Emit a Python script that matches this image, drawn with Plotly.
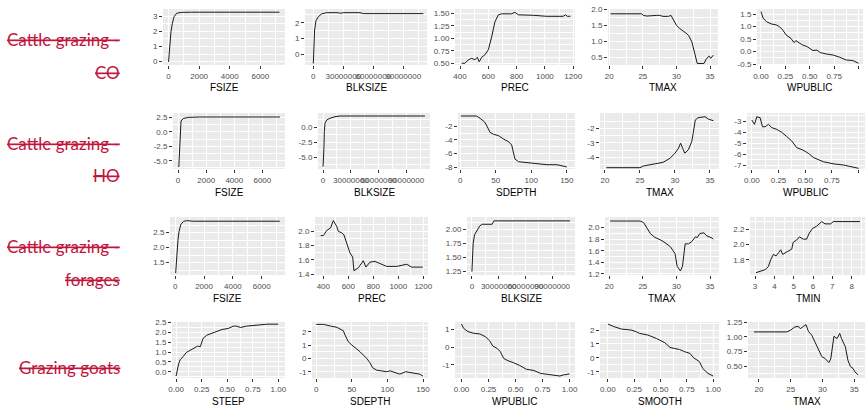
import plotly.graph_objects as go

# ---------------- data (partial dependence curves) ----------------
# Row 1: Cattle grazing - CO
co_fsize_x = [0, 50, 100, 160, 250, 360, 530, 860, 1500, 7250]
co_fsize_y = [-0.02, 0.77, 1.31, 1.97, 2.52, 2.95, 3.18, 3.24, 3.25, 3.25]
co_blk_x = [0, 0.7e6, 1.3e6, 2.7e6, 5e6, 8.3e6, 13.3e6, 25e6, 26.7e6, 30e6, 46.7e6, 50e6, 110e6]
co_blk_y = [-0.6, 0.68, 1.53, 2.13, 2.38, 2.56, 2.64, 2.64, 2.60, 2.64, 2.64, 2.58, 2.58]
co_prec_x = [412, 435, 459, 482, 506, 522, 536, 553, 576, 600, 624, 647, 671, 694, 765, 788,
             812, 847, 918, 1012, 1129, 1146, 1158, 1180]
co_prec_y = [0.50, 0.50, 0.57, 0.60, 0.57, 0.62, 0.53, 0.62, 0.67, 0.77, 1.03, 1.33, 1.47, 1.49,
             1.49, 1.52, 1.47, 1.47, 1.46, 1.44, 1.44, 1.47, 1.44, 1.44]
co_tmax_x = [20.2, 24.8, 25.1, 25.6, 27.0, 27.5, 28.0, 28.8, 29.2, 29.5, 30.0, 30.5, 31.0, 31.4,
             31.8, 32.3, 32.6, 32.9, 33.1, 34.1, 34.5, 34.9, 35.1, 35.5]
co_tmax_y = [1.86, 1.86, 1.81, 1.79, 1.81, 1.81, 1.78, 1.78, 1.81, 1.71, 1.50, 1.40, 1.33, 1.26,
             1.19, 0.98, 0.73, 0.42, 0.31, 0.31, 0.47, 0.54, 0.47, 0.57]
co_wpub_x = [0, 0.023, 0.057, 0.107, 0.157, 0.19, 0.223, 0.257, 0.307, 0.34, 0.357, 0.39, 0.423,
             0.473, 0.507, 0.533, 0.573, 0.607, 0.673, 0.74, 0.807, 0.873, 0.94, 1.0]
co_wpub_y = [1.61, 1.34, 1.20, 1.11, 1.07, 1.00, 0.87, 0.67, 0.53, 0.36, 0.44, 0.36, 0.27, 0.20,
             0.09, 0.04, 0.06, -0.04, -0.10, -0.14, -0.23, -0.34, -0.36, -0.47]

# Row 2: Cattle grazing - HO
ho_fsize_x = [50, 70, 90, 110, 140, 210, 370, 730, 1500, 7250]
ho_fsize_y = [-6.1, -5.0, -3.5, -1.1, 0.9, 1.85, 2.3, 2.48, 2.55, 2.55]
ho_blk_x = [0, 0.66e6, 1.0e6, 1.3e6, 2.06e6, 3.9e6, 7.46e6, 12.9e6, 18.3e6, 110e6]
ho_blk_y = [-6.56, -5.17, -2.95, -0.73, 0.67, 1.22, 1.50, 1.77, 1.88, 1.88]
ho_sdepth_x = [1, 23, 28, 34, 37, 40, 42, 47, 54, 61, 68, 72.5, 75, 77, 82, 94, 103, 112, 122, 136, 145, 150]
ho_sdepth_y = [-0.49, -0.49, -0.83, -1.32, -1.81, -2.54, -2.88, -3.17, -3.37, -3.86, -4.25, -4.74,
               -5.72, -6.78, -7.18, -7.32, -7.32, -7.47, -7.62, -7.62, -7.86, -7.95]
ho_tmax_x = [20.2, 25.0, 25.5, 26.9, 28.3, 29.3, 30.0, 30.5, 30.8, 31.1, 31.4, 31.9, 32.4, 32.6,
             32.9, 33.3, 34.3, 34.8, 35.5]
ho_tmax_y = [-4.72, -4.72, -4.60, -4.48, -4.35, -4.07, -3.72, -3.38, -3.03, -3.38, -3.72, -3.49,
             -2.92, -2.35, -1.43, -1.27, -1.20, -1.37, -1.48]
ho_wpub_x = [0, 0.025, 0.047, 0.078, 0.10, 0.125, 0.156, 0.187, 0.234, 0.281, 0.328, 0.375, 0.42,
             0.48, 0.53, 0.58, 0.67, 0.77, 0.86, 0.95, 1.0]
ho_wpub_y = [-2.91, -3.30, -2.61, -2.70, -3.52, -3.52, -3.30, -3.60, -3.76, -4.03, -4.42, -4.82,
             -5.42, -5.64, -5.94, -6.33, -6.70, -6.90, -7.00, -7.15, -7.30]

# Row 3: Cattle grazing - forages
fo_fsize_x = [30, 75, 123, 193, 262, 380, 560, 795, 1253, 7250]
fo_fsize_y = [1.15, 1.59, 2.03, 2.26, 2.53, 2.76, 2.87, 2.90, 2.88, 2.88]
fo_prec_x = [379, 400, 427, 459, 480, 507, 520, 547, 565, 587, 613, 635, 645, 680, 720, 741, 773,
             813, 853, 907, 987, 1067, 1107, 1196]
fo_prec_y = [1.94, 1.94, 2.01, 2.05, 2.15, 2.07, 2.00, 1.98, 1.95, 1.82, 1.70, 1.64, 1.45, 1.49,
             1.59, 1.50, 1.57, 1.58, 1.55, 1.51, 1.51, 1.54, 1.50, 1.50]
fo_blk_x = [0, 0.6e6, 1.4e6, 2.9e6, 5.9e6, 8.9e6, 11.5e6, 22.7e6, 24.6e6, 110e6]
fo_blk_y = [1.24, 1.51, 1.75, 1.90, 1.99, 2.06, 2.09, 2.09, 2.15, 2.15]
fo_tmax_x = [20.1, 24.6, 25.1, 25.6, 26.1, 26.8, 27.6, 28.3, 29.1, 29.8, 30.1, 30.6, 30.9, 31.3,
             31.8, 32.3, 32.8, 33.1, 33.5, 34.1, 34.5, 35.3, 35.5]
fo_tmax_y = [2.115, 2.115, 2.09, 1.99, 1.90, 1.83, 1.79, 1.74, 1.67, 1.55, 1.33, 1.25, 1.33, 1.72,
             1.72, 1.76, 1.84, 1.83, 1.90, 1.91, 1.86, 1.82, 1.80]
fo_tmin_x = [3.05, 3.26, 3.52, 3.69, 3.81, 3.95, 4.09, 4.21, 4.33, 4.43, 4.64, 4.90, 4.98, 5.16,
             5.29, 5.50, 5.67, 5.81, 5.98, 6.19, 6.45, 6.62, 6.91, 7.05, 8.43]
fo_tmin_y = [1.63, 1.65, 1.67, 1.71, 1.80, 1.87, 1.85, 1.89, 1.93, 1.87, 1.90, 1.94, 2.03, 2.06,
             2.10, 2.07, 2.07, 2.15, 2.21, 2.24, 2.30, 2.27, 2.27, 2.30, 2.30]

# Row 4: Grazing goats
go_steep_x = [0, 0.026, 0.042, 0.068, 0.10, 0.156, 0.21, 0.237, 0.263, 0.30, 0.35, 0.40, 0.45,
              0.51, 0.56, 0.59, 0.63, 0.69, 0.79, 0.89, 1.0]
go_steep_y = [-0.22, 0.42, 0.63, 0.76, 0.98, 1.13, 1.30, 1.27, 1.69, 1.86, 1.95, 2.03, 2.15, 2.20,
              2.32, 2.32, 2.25, 2.32, 2.37, 2.42, 2.42]
go_sdepth_x = [0, 10, 20, 29, 36, 38, 40.5, 45, 50, 54.5, 61.5, 66, 71, 75.4, 79.2, 84.8, 89.4,
               98.8, 103.4, 110.4, 117.3, 125.7, 135.9, 145.3, 150]
go_sdepth_y = [2.55, 2.55, 2.43, 2.33, 2.13, 2.08, 1.75, 1.25, 1.00, 0.83, 0.50, 0.25, 0.00, -0.33,
               -0.70, -0.88, -0.93, -1.00, -0.93, -1.08, -1.18, -1.00, -1.08, -1.18, -1.33]
go_wpub_x = [0, 0.02, 0.06, 0.11, 0.17, 0.22, 0.26, 0.29, 0.33, 0.36, 0.39, 0.43, 0.48, 0.54, 0.60,
             0.67, 0.73, 0.82, 0.91, 0.94, 1.0]
go_wpub_y = [1.30, 1.05, 0.87, 0.78, 0.74, 0.59, 0.36, 0.06, -0.07, -0.26, -0.63, -0.76, -0.87,
             -1.03, -1.24, -1.31, -1.47, -1.56, -1.62, -1.56, -1.50]
go_smooth_x = [0, 0.02, 0.06, 0.13, 0.22, 0.27, 0.30, 0.38, 0.46, 0.54, 0.59, 0.63, 0.68, 0.73,
               0.78, 0.81, 0.85, 0.87, 0.90, 0.95, 1.0]
go_smooth_y = [2.43, 2.36, 2.24, 2.07, 2.00, 1.88, 1.76, 1.64, 1.40, 1.09, 0.75, 0.68, 0.60, 0.44,
               0.32, 0.03, -0.16, -0.28, -0.76, -1.12, -1.31]
go_tmax_x = [19.2, 24.35, 24.9, 25.65, 26.2, 26.5, 27.0, 27.4, 27.8, 28.3, 28.8, 29.4, 29.9, 30.4,
             31.0, 31.3, 31.6, 31.8, 32.3, 32.7, 33.0, 33.6, 34.0, 34.4, 34.8, 35.1, 35.6]
go_tmax_y = [1.085, 1.085, 1.11, 1.17, 1.18, 1.14, 1.18, 1.21, 1.09, 1.03, 0.915, 0.77, 0.66, 0.63,
             0.56, 0.62, 0.89, 1.01, 0.97, 1.06, 0.97, 0.83, 0.60, 0.49, 0.46, 0.40, 0.35]

# row labels and axis titles
row_labels = [["Cattle grazing -", "CO"], ["Cattle grazing -", "HO"],
              ["Cattle grazing -", "forages"], ["Grazing goats"]]
x_titles = [["FSIZE", "BLKSIZE", "PREC", "TMAX", "WPUBLIC"],
            ["FSIZE", "BLKSIZE", "SDEPTH", "TMAX", "WPUBLIC"],
            ["FSIZE", "PREC", "BLKSIZE", "TMAX", "TMIN"],
            ["STEEP", "SDEPTH", "WPUBLIC", "SMOOTH", "TMAX"]]

# tick values
t_fsize = [0, 2000, 4000, 6000]
t_blk = [0, 30000000, 60000000, 90000000]
t_prec = [400, 600, 800, 1000, 1200]
t_tmax = [20, 25, 30, 35]
t_unit = [0, 0.25, 0.5, 0.75, 1.0]
t_sdepth = [0, 50, 100, 150]
t_tmin = [3, 4, 5, 6, 7, 8]

# ---------------- layout description ----------------
W, H = 866, 410
row_y = [(9, 65), (113, 169), (217, 275), (322, 378)]

panels = [
    # row, col, x, y, x-dom px, x-range, x-ticks, x-dec, y-range, y-ticks, y-dec
    (0, 0, co_fsize_x, co_fsize_y, (163, 285), (-362, 7612), t_fsize, 0, (-0.22, 3.46), [0, 1, 2, 3], 0),
    (0, 1, co_blk_x, co_blk_y, (305, 427), (-8.3e6, 113.7e6), t_blk, 0, (-0.70, 2.875), [0, 1, 2], 0),
    (0, 2, co_prec_x, co_prec_y, (455, 575), (364.7, 1212.7), t_prec, 0, (0.466, 1.586), [0.5, 0.75, 1.0, 1.25, 1.5], 2),
    (0, 3, co_tmax_x, co_tmax_y, (608, 718), (19.81, 36.19), t_tmax, 0, (0.262, 2.01), [0.5, 1.0, 1.5, 2.0], 1),
    (0, 4, co_wpub_x, co_wpub_y, (757, 863), (-0.04, 1.045), t_unit, 2, (-0.54, 1.71), [-0.5, 0, 0.5, 1.0, 1.5], 1),

    (1, 0, ho_fsize_x, ho_fsize_y, (173, 285), (-362, 7612), t_fsize, 0, (-6.43, 3.24), [-5, -2.5, 0, 2.5], 1),
    (1, 1, ho_blk_x, ho_blk_y, (318, 430), (-5.5e6, 115.5e6), t_blk, 0, (-6.95, 2.38), [-5, -2.5, 0], 1),
    (1, 2, ho_sdepth_x, ho_sdepth_y, (458, 575), (-3, 161.5), t_sdepth, 0, (-8.25, -0.05), [-8, -6, -4, -2], 0),
    (1, 3, ho_tmax_x, ho_tmax_y, (600, 719), (19.29, 36.29), t_tmax, 0, (-4.81, -0.945), [-4, -3, -2], 0),
    (1, 4, ho_wpub_x, ho_wpub_y, (747, 865), (-0.045, 1.06), t_unit, 2, (-7.36, -2.27), [-7, -6, -5, -4, -3], 0),

    (2, 0, fo_fsize_x, fo_fsize_y, (170, 285), (-362, 7612), t_fsize, 0, (1.09, 3.02), [1.5, 2.0, 2.5], 1),
    (2, 1, fo_prec_x, fo_prec_y, (315, 428), (333.6, 1237.6), t_prec, 0, (1.39, 2.2), [1.4, 1.6, 1.8, 2.0], 1),
    (2, 2, fo_blk_x, fo_blk_y, (467, 575), (-5.5e6, 115.5e6), t_blk, 0, (1.18, 2.22), [1.25, 1.5, 1.75, 2.0], 2),
    (2, 3, fo_tmax_x, fo_tmax_y, (605, 719), (19.36, 36.34), t_tmax, 0, (1.18, 2.185), [1.2, 1.4, 1.6, 1.8, 2.0], 1),
    (2, 4, fo_tmin_x, fo_tmin_y, (750, 865), (2.74, 8.69), t_tmin, 0, (1.60, 2.36), [1.8, 2.0, 2.2], 1),

    (3, 0, go_steep_x, go_steep_y, (172, 285), (-0.04, 1.065), t_unit, 2, (-0.32, 2.53), [0, 0.5, 1.0, 1.5, 2.0, 2.5], 1),
    (3, 1, go_sdepth_x, go_sdepth_y, (312, 428), (-6, 157), t_sdepth, 0, (-1.47, 2.73), [-1, 0, 1, 2], 0),
    (3, 2, go_wpub_x, go_wpub_y, (455, 575), (-0.06, 1.05), t_unit, 2, (-1.73, 1.41), [-1, 0, 1], 0),
    (3, 3, go_smooth_x, go_smooth_y, (600, 719), (-0.075, 1.055), t_unit, 2, (-1.45, 2.58), [-1, 0, 1, 2], 0),
    (3, 4, go_tmax_x, go_tmax_y, (748, 865), (18.27, 36.69), t_tmax, 0, (0.295, 1.255), [0.5, 0.75, 1.0, 1.25], 2),
]

FONT = "Liberation Sans, Arial, sans-serif"
RED = "#C0163D"


def fmt(v, d):
    s = f"{v:.{d}f}"
    if s.startswith("-") and float(s) == 0:
        s = s[1:]
    return s


def minors(ticks, rng):
    step = ticks[1] - ticks[0]
    vals = [ticks[0] - step / 2] + [t + step / 2 for t in ticks]
    lo, hi = min(rng), max(rng)
    return [v for v in vals if lo <= v <= hi]


def make_axis(dom, rng, ticks, dec, anchor):
    return dict(
        domain=dom, range=list(rng), anchor=anchor,
        tickmode="array", tickvals=ticks, ticktext=[fmt(t, dec) for t in ticks],
        ticks="outside", ticklen=3, tickwidth=1, tickcolor="#333333", tickangle=0,
        showgrid=True, gridcolor="white", gridwidth=1.1,
        minor=dict(tickmode="array", tickvals=minors(ticks, rng), showgrid=True,
                   gridcolor="white", gridwidth=0.5, ticks=""),
        zeroline=False, showline=False, fixedrange=True, automargin=False,
        tickfont=dict(family=FONT, size=8, color="#4D4D4D"),
    )


fig = go.Figure()
layout = {}
annotations = []

for i, (r, c, xs, ys, xdom, xr, xt, xd, yr, yt, yd) in enumerate(panels, start=1):
    xa = "x" if i == 1 else f"x{i}"
    ya = "y" if i == 1 else f"y{i}"
    y0, y1 = row_y[r]
    xdom_p = [xdom[0] / W, xdom[1] / W]
    ydom_p = [1 - y1 / H, 1 - y0 / H]
    layout["xaxis" if i == 1 else f"xaxis{i}"] = make_axis(xdom_p, xr, xt, xd, ya)
    layout["yaxis" if i == 1 else f"yaxis{i}"] = make_axis(ydom_p, yr, yt, yd, xa)
    fig.add_trace(go.Scatter(x=xs, y=ys, mode="lines", xaxis=xa, yaxis=ya,
                             line=dict(color="#1a1a1a", width=1),
                             showlegend=False, hoverinfo="skip"))
    annotations.append(dict(
        text=x_titles[r][c], xref="paper", yref="paper",
        x=(xdom[0] + xdom[1]) / 2 / W, y=1 - (y1 + 23) / H,
        xanchor="center", yanchor="middle", showarrow=False,
        font=dict(family=FONT, size=10, color="black")))

label_y = [[40, 73], [143, 176], [246, 279], [367]]
for r, lines in enumerate(row_labels):
    for k, txt in enumerate(lines):
        annotations.append(dict(
            text=f"<s>{txt}</s>", xref="paper", yref="paper",
            x=122 / W, y=1 - label_y[r][k] / H, xanchor="right", yanchor="middle",
            showarrow=False, font=dict(family="Lato, Noto Sans, sans-serif", size=17, color=RED)))

fig.update_layout(
    width=W, height=H, margin=dict(l=0, r=0, t=0, b=0),
    paper_bgcolor="white", plot_bgcolor="#EBEBEB",
    annotations=annotations, hovermode=False, **layout)

fig.write_html("out.html", config={"displayModeBar": False},
               post_script="document.body.style.margin='0';document.body.style.overflow='hidden';")
